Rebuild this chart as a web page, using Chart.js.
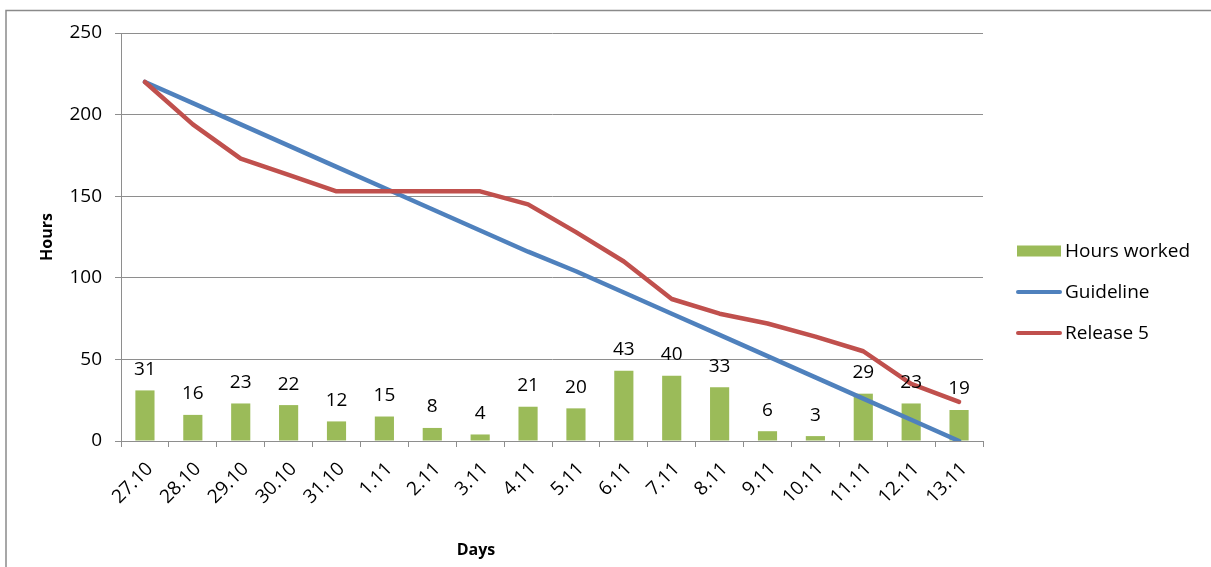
<!DOCTYPE html>
<html>
<head>
<meta charset="utf-8">
<title>Release 5 burndown</title>
<script src="https://cdn.jsdelivr.net/npm/chart.js@4.4.1/dist/chart.umd.min.js"></script>
<style>
  html, body { margin: 0; padding: 0; background: #ffffff; }
  #wrap { width: 1211px; height: 567px; position: relative; }
</style>
</head>
<body>
<div id="wrap"><canvas id="burndown" width="1211" height="567"></canvas></div>
<script>
// Sprint days
const days = ['27.10', '28.10', '29.10', '30.10', '31.10', '1.11', '2.11', '3.11', '4.11',
              '5.11', '6.11', '7.11', '8.11', '9.11', '10.11', '11.11', '12.11', '13.11'];

// Hours logged per day
const hoursWorked = [31, 16, 23, 22, 12, 15, 8, 4, 21, 20, 43, 40, 33, 6, 3, 29, 23, 19];

// Ideal remaining work
const guideline = [220, 207, 194, 181, 168, 155, 142, 129, 116, 104, 91, 78, 65, 52, 39, 26, 13, 0];

// Actual remaining work
const release5 = [220, 194, 173, 163, 153, 153, 153, 153, 145, 128, 110, 87, 78, 72, 64, 55, 35, 24];

// Value axis ticks
const hourTicks = [0, 50, 100, 150, 200, 250];

const FONT = "'Open Sans', 'Liberation Sans', sans-serif";
const GRID = '#8e8e8e';
const GREEN = '#9bbb59';
const BLUE = '#4f81bd';
const RED = '#c0504d';

// Outer frame of the chart object
const framePlugin = {
  id: 'frame',
  beforeDraw(chart) {
    const ctx = chart.ctx;
    ctx.save();
    ctx.fillStyle = '#ffffff';
    ctx.fillRect(0, 0, chart.width, chart.height);
    ctx.strokeStyle = '#8a8a8a';
    ctx.lineWidth = 1.5;
    ctx.beginPath();
    ctx.moveTo(chart.width, 10.5);
    ctx.lineTo(6, 10.5);
    ctx.lineTo(6, chart.height);
    ctx.stroke();
    ctx.restore();
  }
};

// Value labels above the bars
const barLabelPlugin = {
  id: 'barLabels',
  afterDatasetsDraw(chart) {
    const ctx = chart.ctx;
    const meta = chart.getDatasetMeta(0);
    const values = chart.data.datasets[0].data;
    ctx.save();
    ctx.font = '19px ' + FONT;
    ctx.fillStyle = '#000000';
    ctx.textAlign = 'center';
    ctx.textBaseline = 'middle';
    meta.data.forEach((bar, i) => {
      ctx.fillText(String(values[i]), bar.x, bar.y - 21);
    });
    ctx.restore();
  }
};

// Axis title under the category axis and the legend on the right
const sideTextPlugin = {
  id: 'sideText',
  afterDraw(chart) {
    const ctx = chart.ctx;
    ctx.save();
    ctx.fillStyle = '#000000';
    ctx.font = 'bold 16px ' + FONT;
    ctx.textAlign = 'center';
    ctx.textBaseline = 'middle';
    ctx.fillText('Days', 476, 550);

    const x0 = chart.chartArea.right + 34;
    const rows = [251, 292, 333];
    ctx.font = '19px ' + FONT;
    ctx.textAlign = 'left';
    chart.data.datasets.forEach((ds, i) => {
      const y = rows[i];
      if (ds.type === 'bar') {
        ctx.fillStyle = ds.backgroundColor;
        ctx.fillRect(x0, y - 5.5, 44, 11);
      } else {
        ctx.strokeStyle = ds.borderColor;
        ctx.lineWidth = 4;
        ctx.lineCap = 'round';
        ctx.beginPath();
        ctx.moveTo(x0 + 1, y);
        ctx.lineTo(x0 + 43, y);
        ctx.stroke();
      }
      ctx.fillStyle = '#000000';
      ctx.fillText(ds.label, x0 + 48, y + 1);
    });
    ctx.restore();
  }
};

new Chart(document.getElementById('burndown'), {
  data: {
    labels: days,
    datasets: [
      {
        type: 'bar',
        label: 'Hours worked',
        data: hoursWorked,
        backgroundColor: GREEN,
        borderWidth: 0,
        barPercentage: 0.4,
        categoryPercentage: 1.0,
        order: 3
      },
      {
        type: 'line',
        label: 'Guideline',
        data: guideline,
        borderColor: BLUE,
        backgroundColor: BLUE,
        borderWidth: 4.5,
        pointRadius: 0,
        tension: 0,
        borderJoinStyle: 'round',
        borderCapStyle: 'round',
        order: 2
      },
      {
        type: 'line',
        label: 'Release 5',
        data: release5,
        borderColor: RED,
        backgroundColor: RED,
        borderWidth: 4.5,
        pointRadius: 0,
        tension: 0,
        borderJoinStyle: 'round',
        borderCapStyle: 'round',
        order: 1
      }
    ]
  },
  options: {
    responsive: false,
    devicePixelRatio: 1,
    animation: false,
    layout: { padding: { top: 33, right: 228, bottom: 0, left: 0 } },
    plugins: {
      legend: { display: false },
      tooltip: { enabled: false }
    },
    scales: {
      x: {
        type: 'category',
        offset: true,
        grid: {
          offset: true,
          drawOnChartArea: false,
          drawTicks: true,
          tickLength: 6,
          color: GRID
        },
        border: { color: GRID, width: 1 },
        ticks: {
          autoSkip: false,
          minRotation: 45,
          maxRotation: 45,
          padding: 11,
          labelOffset: 5,
          color: '#000000',
          font: { family: FONT, size: 19 }
        },
        afterFit(scale) { scale.height = 126; }
      },
      y: {
        type: 'linear',
        min: 0,
        max: 250,
        afterBuildTicks(scale) {
          scale.ticks = hourTicks.map(v => ({ value: v }));
        },
        grid: {
          color: GRID,
          lineWidth: 1,
          drawTicks: true,
          tickLength: 6
        },
        border: { color: GRID, width: 1 },
        ticks: {
          padding: 13,
          color: '#000000',
          font: { family: FONT, size: 19 }
        },
        title: {
          display: true,
          text: 'Hours',
          color: '#000000',
          font: { family: FONT, size: 16, weight: 'bold' },
          padding: { top: 38, bottom: 0 }
        },
        afterFit(scale) { scale.width = 121; }
      }
    }
  },
  plugins: [framePlugin, barLabelPlugin, sideTextPlugin]
});
</script>
</body>
</html>
